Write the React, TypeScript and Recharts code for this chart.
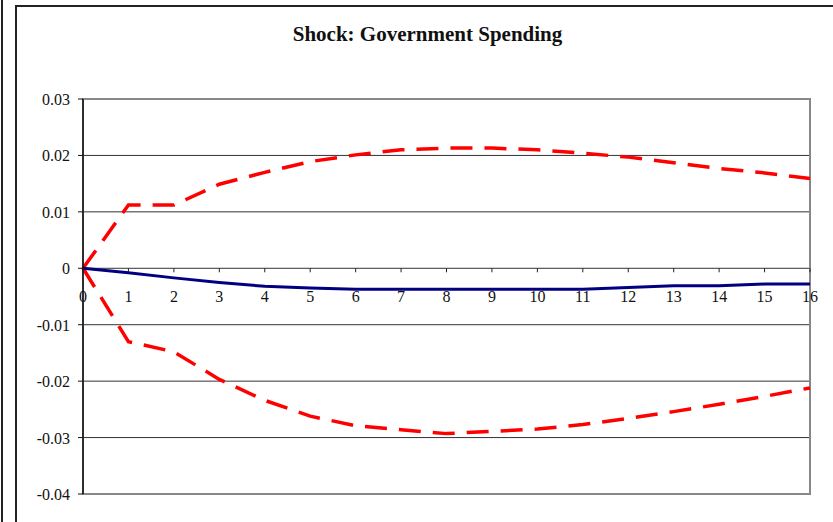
import React from 'react';
import { LineChart, Line, XAxis, YAxis, CartesianGrid, ReferenceArea } from 'recharts';

const periods = [0, 1, 2, 3, 4, 5, 6, 7, 8, 9, 10, 11, 12, 13, 14, 15, 16];
const response = [0, -0.0008, -0.0017, -0.0025, -0.0032, -0.0035, -0.0037, -0.0037, -0.0037, -0.0037, -0.0037, -0.0037, -0.0034, -0.0031, -0.0031, -0.0028, -0.0028];
const upperBand = [0, 0.0112, 0.0112, 0.0149, 0.017, 0.0189, 0.0201, 0.021, 0.0213, 0.0213, 0.021, 0.0204, 0.0197, 0.0187, 0.0177, 0.0169, 0.0159];
const lowerBand = [0, -0.013, -0.0148, -0.0197, -0.0234, -0.0262, -0.0279, -0.0286, -0.0293, -0.0289, -0.0285, -0.0277, -0.0266, -0.0254, -0.0241, -0.0227, -0.0212];
const yTicks = [-0.04, -0.03, -0.02, -0.01, 0, 0.01, 0.02, 0.03];
const Y_MIN = -0.04;
const Y_MAX = 0.03;

const data = periods.map((t, i) => ({ t, mid: response[i], up: upperBand[i], lo: lowerBand[i] }));

const W = 833;
const H = 522;
const M = { top: 99, right: 23, left: 23, bottom: 27 };
const PLOT_H = H - M.top - M.bottom - 1;
const zeroY = M.top + (PLOT_H * Y_MAX) / (Y_MAX - Y_MIN);
const FONT = "'Liberation Serif', 'Times New Roman', serif";

const fmt = (v: number) => String(Number(Number(v).toFixed(2)));

const renderXTick = (props: any) => {
  const { x, payload } = props;
  return (
    <g>
      <line x1={x} x2={x} y1={zeroY} y2={zeroY + 4} stroke="#222" strokeWidth={1} />
      <text x={x} y={zeroY + 34} textAnchor="middle" style={{ fontFamily: FONT, fontSize: 16 }} fill="#111">
        {payload.value}
      </text>
    </g>
  );
};

const renderYTick = (props: any) => {
  const { x, y, payload } = props;
  return (
    <text x={x} y={y + 6} textAnchor="end" style={{ fontFamily: FONT, fontSize: 16 }} fill="#111">
      {fmt(payload.value)}
    </text>
  );
};

export default function App() {
  return (
    <div style={{ position: 'fixed', left: 0, top: 0, width: W, height: H, overflow: 'hidden', background: '#fff' }}>
      <div style={{ position: 'absolute', left: 1, top: 0, width: 2, height: H, background: '#222' }} />
      <div style={{ position: 'absolute', left: 15, top: 5, width: 900, height: 700, border: '2px solid #222', boxSizing: 'border-box' }} />
      <div
        style={{
          position: 'absolute',
          left: 0,
          width: W,
          top: 22,
          textAlign: 'center',
          fontFamily: FONT,
          fontWeight: 'bold',
          fontSize: 21,
          color: '#111',
          paddingLeft: 22,
          boxSizing: 'border-box',
        }}
      >
        Shock: Government Spending
      </div>
      <div style={{ position: 'absolute', left: 0, top: 0 }}>
        <LineChart width={W} height={H} data={data} margin={M}>
          <CartesianGrid vertical={false} stroke="#333" strokeWidth={1} />
          <ReferenceArea x1={0} x2={16} y1={Y_MIN} y2={Y_MAX} fill="none" stroke="#888" strokeWidth={2} />
          <XAxis dataKey="t" height={1} axisLine={false} tickLine={false} tick={renderXTick} interval={0} />
          <YAxis
            width={60}
            domain={[Y_MIN, Y_MAX]}
            ticks={yTicks}
            interval={0}
            axisLine={{ stroke: '#111', strokeWidth: 1.5 }}
            tickLine={{ stroke: '#111' }}
            tickSize={5}
            tickMargin={8}
            tick={renderYTick}
          />
          <Line type="linear" dataKey="up" stroke="#ff0000" strokeWidth={3.5} strokeDasharray="22 12" dot={false} isAnimationActive={false} />
          <Line type="linear" dataKey="lo" stroke="#ff0000" strokeWidth={3.5} strokeDasharray="22 12" dot={false} isAnimationActive={false} />
          <Line type="linear" dataKey="mid" stroke="#000080" strokeWidth={3} dot={false} isAnimationActive={false} />
        </LineChart>
      </div>
    </div>
  );
}
